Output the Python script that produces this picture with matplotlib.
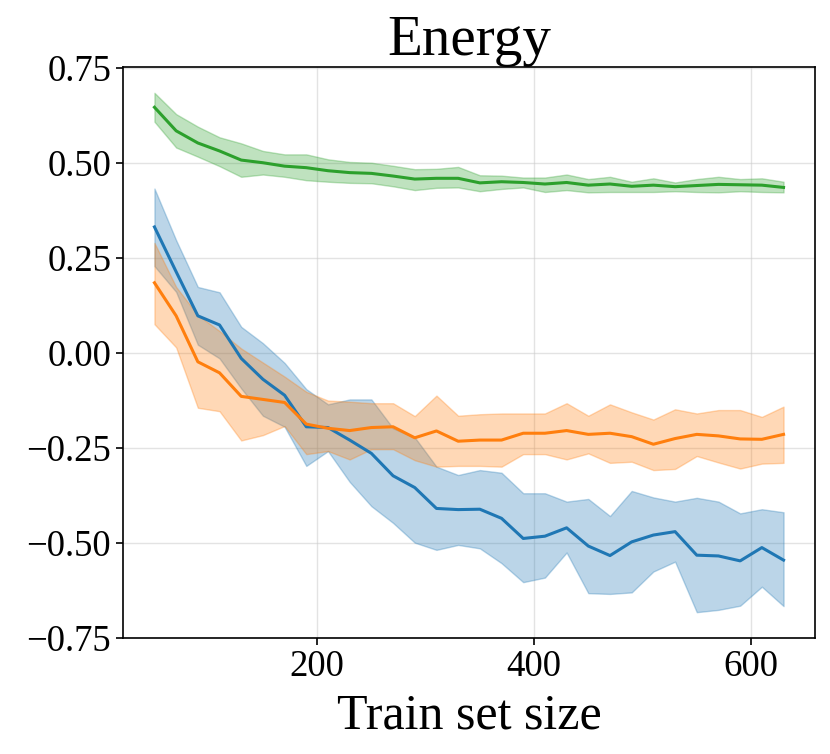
import matplotlib
matplotlib.use("Agg")
import matplotlib.pyplot as plt
import numpy as np

plt.rcParams['font.family'] = ['Liberation Serif', 'DejaVu Serif']

# train set sizes
sizes = list(range(50, 631, 20))

# blue series
blue_mean = [0.332, 0.214, 0.098, 0.074, -0.014, -0.069, -0.111, -0.194, -0.196, -0.229,
             -0.264, -0.323, -0.354, -0.409, -0.412, -0.411, -0.435, -0.488, -0.482, -0.460,
             -0.508, -0.533, -0.497, -0.479, -0.470, -0.532, -0.534, -0.547, -0.512, -0.545]
blue_upper = [0.433, 0.297, 0.174, 0.160, 0.069, 0.026, -0.026, -0.095, -0.135, -0.122,
              -0.122, -0.198, -0.222, -0.299, -0.321, -0.308, -0.315, -0.369, -0.369, -0.391,
              -0.384, -0.429, -0.363, -0.380, -0.391, -0.381, -0.391, -0.422, -0.411, -0.419]
blue_lower = [0.229, 0.161, 0.022, -0.014, -0.093, -0.165, -0.194, -0.297, -0.258, -0.339,
              -0.403, -0.447, -0.499, -0.518, -0.505, -0.514, -0.553, -0.603, -0.591, -0.525,
              -0.632, -0.634, -0.630, -0.575, -0.549, -0.682, -0.676, -0.665, -0.615, -0.666]

# orange series
orange_mean = [0.185, 0.098, -0.023, -0.052, -0.114, -0.122, -0.130, -0.187, -0.198, -0.204,
               -0.196, -0.194, -0.223, -0.205, -0.232, -0.229, -0.229, -0.211, -0.211, -0.204,
               -0.214, -0.211, -0.220, -0.240, -0.225, -0.214, -0.218, -0.226, -0.227, -0.214]
orange_upper = [0.290, 0.174, 0.100, 0.058, 0.012, -0.025, -0.062, -0.102, -0.125, -0.128,
                -0.132, -0.132, -0.166, -0.112, -0.165, -0.161, -0.159, -0.159, -0.159, -0.132,
                -0.165, -0.135, -0.156, -0.175, -0.148, -0.159, -0.150, -0.150, -0.168, -0.141]
orange_lower = [0.076, 0.015, -0.144, -0.153, -0.230, -0.216, -0.192, -0.266, -0.258, -0.280,
                -0.253, -0.253, -0.282, -0.299, -0.297, -0.297, -0.299, -0.266, -0.266, -0.280,
                -0.264, -0.289, -0.286, -0.308, -0.305, -0.271, -0.288, -0.304, -0.291, -0.289]

# green series
green_mean = [0.647, 0.585, 0.553, 0.532, 0.508, 0.501, 0.492, 0.488, 0.480, 0.475,
              0.473, 0.466, 0.458, 0.460, 0.460, 0.448, 0.451, 0.449, 0.445, 0.449,
              0.442, 0.445, 0.439, 0.442, 0.438, 0.441, 0.444, 0.443, 0.442, 0.436]
green_upper = [0.685, 0.629, 0.596, 0.568, 0.552, 0.532, 0.523, 0.523, 0.510, 0.503,
               0.501, 0.493, 0.484, 0.485, 0.490, 0.468, 0.467, 0.462, 0.462, 0.470,
               0.458, 0.464, 0.451, 0.460, 0.449, 0.458, 0.464, 0.458, 0.460, 0.451]
green_lower = [0.609, 0.541, 0.517, 0.492, 0.464, 0.470, 0.464, 0.455, 0.451, 0.448,
               0.447, 0.439, 0.429, 0.435, 0.436, 0.426, 0.432, 0.436, 0.424, 0.429,
               0.423, 0.424, 0.424, 0.424, 0.426, 0.424, 0.423, 0.426, 0.424, 0.423]

fig = plt.figure(figsize=(8.3, 7.54), dpi=100)
ax = fig.add_axes([123 / 830, 1 - 638 / 754, (815 - 123) / 830, (638 - 67) / 754])

series = [
    (blue_mean, blue_lower, blue_upper, 'tab:blue'),
    (orange_mean, orange_lower, orange_upper, 'tab:orange'),
    (green_mean, green_lower, green_upper, 'tab:green'),
]
for mean, lower, upper, color in series:
    ax.plot(sizes, mean, color=color, linewidth=2.2)
    ax.fill_between(sizes, lower, upper, color=color, alpha=0.3)

ax.set_ylim(-0.75, 0.753)
ax.set_yticks([-0.75, -0.5, -0.25, 0.0, 0.25, 0.5, 0.75])
ax.set_xticks([200, 400, 600])
ax.grid(True, color='#cccccc', alpha=0.55, linewidth=1)
ax.set_axisbelow(True)

ax.tick_params(labelsize=26.5, width=1.2, length=5)
for sp in ax.spines.values():
    sp.set_linewidth(1.2)

ax.set_title('Energy', fontsize=41, pad=5)
ax.set_xlabel('Train set size', fontsize=36, labelpad=6)

fig.savefig('out.png', dpi=100)
